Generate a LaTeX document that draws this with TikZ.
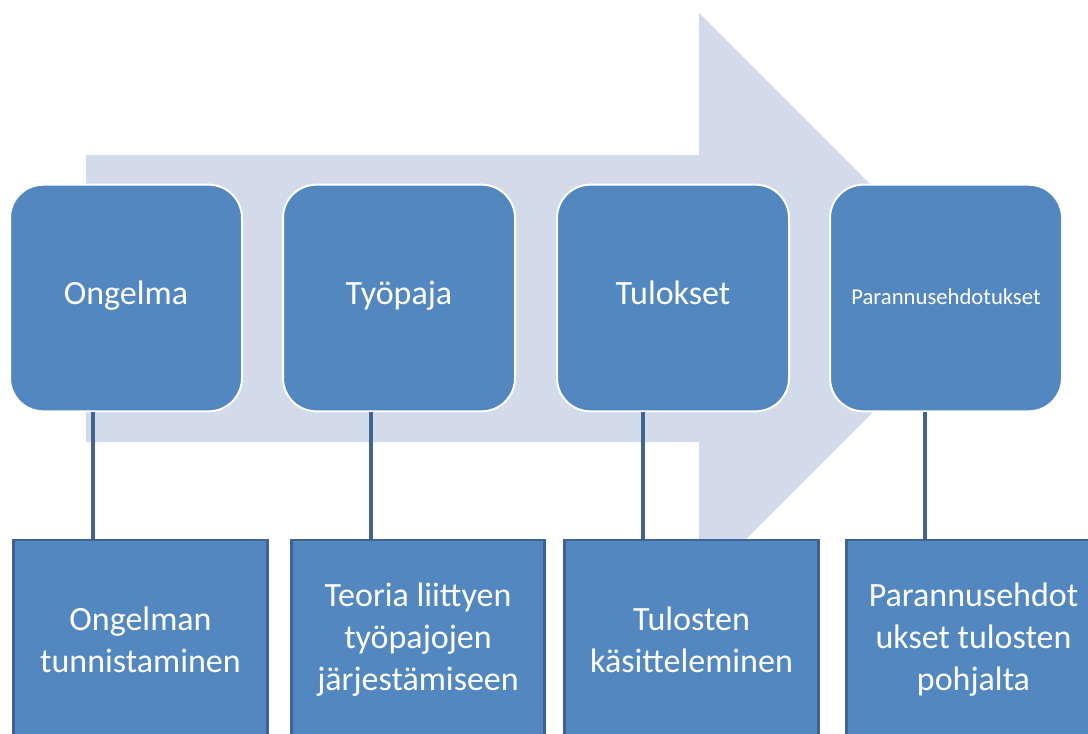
\documentclass[tikz,border=0pt]{standalone}
\usepackage{fontspec}
\setmainfont{Carlito}
\usepackage{tikz}
\usetikzlibrary{positioning}

\definecolor{boxblue}{RGB}{83,135,192}
\definecolor{edgeblue}{RGB}{63,100,148}
\definecolor{arrowtint}{RGB}{211,218,234}

\tikzset{
  phase/.style={draw=white, line width=1.5pt, fill=boxblue, rounded corners=25pt,
    minimum width=174pt, minimum height=170pt, text=white,
    text height=2.7ex, text depth=0.6ex,
    font=\fontsize{25.5}{30}\selectfont},
  detail/.style={draw=edgeblue, line width=2.2pt, fill=boxblue,
    minimum width=190pt, minimum height=150pt, text=white, align=center,
    font=\fontsize{25.5}{31.5}\selectfont},
  link/.style={draw=edgeblue, line width=2.5pt}
}

\begin{document}
\begin{tikzpicture}[x=0.75pt, y=-0.75pt]
        \useasboundingbox (0,0) rectangle (1088,733);
        \clip (0,0) rectangle (1088,733);

        % Background arrow
        \fill[arrowtint] (86,155) -- (699,155) -- (699,13) -- (985.5,299.5)
            -- (699,586) -- (699,442) -- (86,442) -- cycle;

        % Phase boxes
        \node[phase] (ongelma) at (126,298) {Ongelma};
        \node[phase] (tyopaja) at (399,298) {Työpaja};
        \node[phase] (tulokset) at (673,298) {Tulokset};
        \node[phase, font=\fontsize{17}{20}\selectfont] (parannus) at (946,298) {Parannusehdotukset};

        % Detail boxes
        \node[detail] (ongelmaTx) at (140.5,640) {Ongelman\\tunnistaminen};
        \node[detail] (tyopajaTx) at (418,640) {Teoria liittyen\\työpajojen\\järjestämiseen};
        \node[detail] (tuloksetTx) at (691.5,640) {Tulosten\\käsitteleminen};
        \node[detail] (parannusTx) at (973.5,640) {Parannusehdot\\ukset tulosten\\pohjalta};

        % Connectors
        \draw[link] ([xshift=-24.75pt]ongelma.south) -- ([xshift=-24.75pt]ongelma.south |- ongelmaTx.north);
        \draw[link] ([xshift=-21pt]tyopaja.south) -- ([xshift=-21pt]tyopaja.south |- tyopajaTx.north);
        \draw[link] ([xshift=-22.5pt]tulokset.south) -- ([xshift=-22.5pt]tulokset.south |- tuloksetTx.north);
        \draw[link] ([xshift=-15.75pt]parannus.south) -- ([xshift=-15.75pt]parannus.south |- parannusTx.north);
    \end{tikzpicture}
\end{document}
